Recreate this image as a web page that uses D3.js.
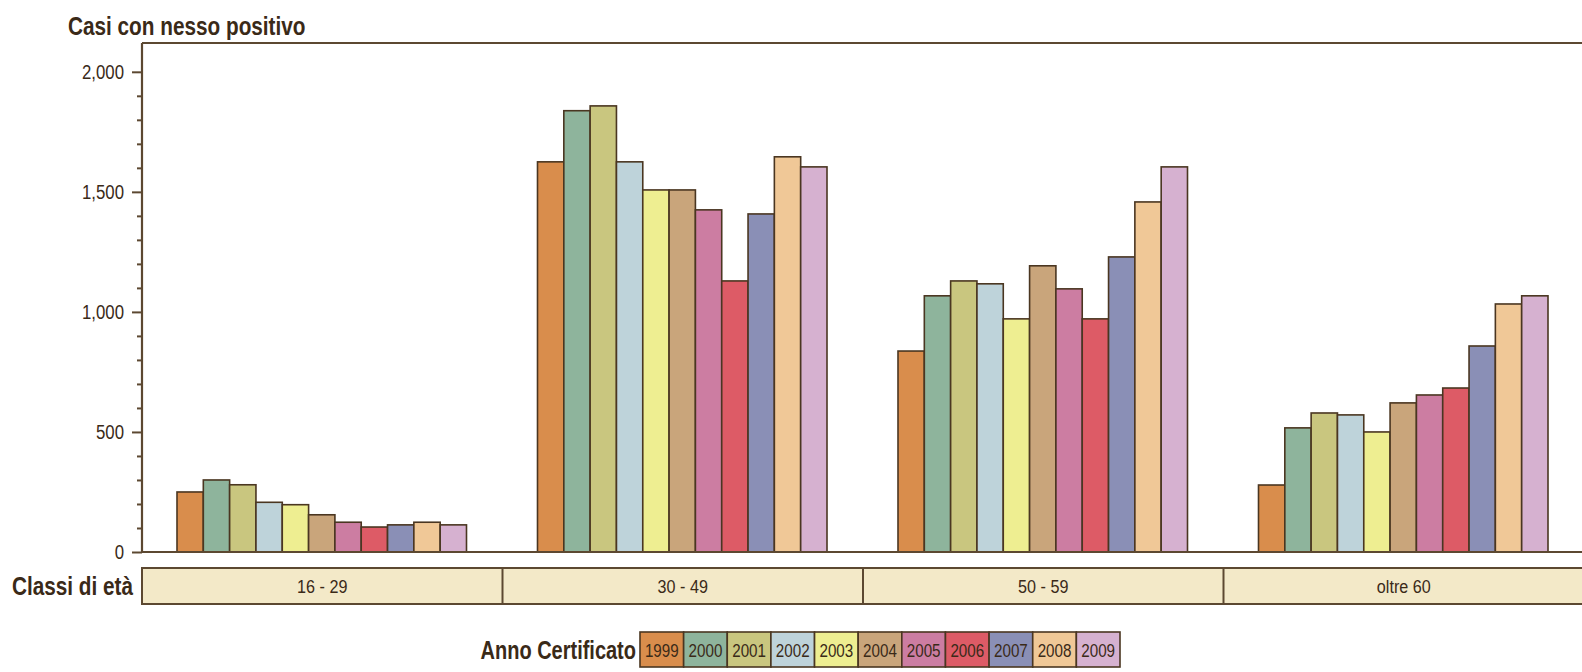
<!DOCTYPE html>
<html>
<head>
<meta charset="utf-8">
<script src="https://cdn.jsdelivr.net/npm/d3@7"></script>
<style>
  html, body { margin: 0; padding: 0; background: #fff; }
  svg { display: block; }
  text { font-family: "Liberation Sans", Arial, sans-serif; }
</style>
</head>
<body>
<svg id="chart" width="1582" height="672"></svg>
<script>
// ---- data ----
const ageClasses = ["16 - 29", "30 - 49", "50 - 59", "oltre 60"];
const years = ["1999", "2000", "2001", "2002", "2003", "2004", "2005", "2006", "2007", "2008", "2009"];
const values1629 = [250, 300, 280, 207, 197, 155, 124, 104, 113, 124, 113];
const values3049 = [1625, 1838, 1858, 1625, 1508, 1508, 1425, 1129, 1408, 1646, 1604];
const values5059 = [837, 1067, 1129, 1117, 971, 1192, 1096, 971, 1229, 1458, 1604];
const valuesOltre60 = [279, 517, 579, 571, 500, 621, 654, 683, 858, 1033, 1067];
const yearColors = ["#d98d4c", "#8eb49c", "#c9c67f", "#bed3da", "#eeee91", "#c9a57b", "#cc7da2", "#dd5b66", "#8a8fb6", "#f0c897", "#d6b1d0"];
const yTicks = [0, 500, 1000, 1500, 2000];

const seriesByClass = [values1629, values3049, values5059, valuesOltre60];
const ink = "#4a3621";
const axisCol = "#5c4831";
const textCol = "#3a2a18";
const condense = 0.82;

const svg = d3.select("#chart");

// condensed text helper
function ctext(parent, x, yy, str, size, bold, anchor, sx) {
  return parent.append("text")
    .attr("transform", `translate(${x},${yy}) scale(${sx || condense},1)`)
    .attr("text-anchor", anchor || "start")
    .attr("font-size", size)
    .attr("font-weight", bold ? "bold" : "normal")
    .attr("fill", textCol)
    .text(str);
}

const pLeft = 142, pRight = 1584, pTop = 43, pBottom = 552;
const y = d3.scaleLinear().domain([0, 2120]).range([pBottom, pTop]);
const x0 = d3.scaleBand().domain(ageClasses).range([pLeft, pRight]).paddingInner(0).paddingOuter(0);
const x1 = d3.scaleBand().domain(years).range([35, x0.bandwidth() - 36]).padding(0);

// bars
const groups = svg.append("g").selectAll("g")
  .data(ageClasses)
  .join("g")
  .attr("transform", d => `translate(${x0(d)},0)`);

groups.selectAll("rect")
  .data((d, i) => years.map((yr, j) => ({ yr, v: seriesByClass[i][j], c: yearColors[j] })))
  .join("rect")
  .attr("x", d => x1(d.yr))
  .attr("width", x1.bandwidth())
  .attr("y", d => y(d.v))
  .attr("height", d => y(0) - y(d.v))
  .attr("fill", d => d.c)
  .attr("stroke", ink)
  .attr("stroke-width", 1.6);

// frame: top line and baseline
svg.append("line").attr("x1", pLeft).attr("x2", 1582).attr("y1", pTop).attr("y2", pTop)
  .attr("stroke", axisCol).attr("stroke-width", 2.2);
svg.append("line").attr("x1", pLeft).attr("x2", 1582).attr("y1", pBottom).attr("y2", pBottom)
  .attr("stroke", axisCol).attr("stroke-width", 2.2);

// y axis with minor ticks
const minor = d3.range(0, 2001, 100).filter(v => v % 500 !== 0);
const yMinor = d3.axisLeft(y).tickValues(minor).tickSize(5).tickFormat("");
svg.append("g").attr("transform", `translate(${pLeft},0)`).call(yMinor)
  .call(g => g.select(".domain").remove())
  .call(g => g.selectAll("line").attr("stroke", axisCol).attr("stroke-width", 2));

const tickSx = 0.8;
const yAxis = d3.axisLeft(y).tickValues(yTicks).tickSize(10).tickPadding(8)
  .tickFormat(d3.format(","));
svg.append("g").attr("transform", `translate(${pLeft},0)`).call(yAxis)
  .call(g => g.select(".domain").attr("d", `M0,${pTop}V${pBottom}`).attr("stroke", axisCol).attr("stroke-width", 2.2))
  .call(g => g.selectAll("line").attr("stroke", axisCol).attr("stroke-width", 2))
  .call(g => g.selectAll("text")
    .attr("fill", textCol).attr("font-size", 21)
    .attr("font-family", '"Liberation Sans", Arial, sans-serif')
    .attr("x", -18 / tickSx)
    .attr("transform", `scale(${tickSx},1)`));

// y title
ctext(svg, 68, 35, "Casi con nesso positivo", 25, true, "start", 0.83);

// category strip
const stripTop = 568, stripH = 36;
svg.append("rect").attr("x", pLeft).attr("y", stripTop).attr("width", 1582 - pLeft + 10).attr("height", stripH)
  .attr("fill", "#f3e9c8").attr("stroke", axisCol).attr("stroke-width", 2);
svg.append("g").selectAll("line")
  .data(ageClasses.slice(1))
  .join("line")
  .attr("x1", d => x0(d)).attr("x2", d => x0(d))
  .attr("y1", stripTop).attr("y2", stripTop + stripH)
  .attr("stroke", axisCol).attr("stroke-width", 2);
const stripLabels = svg.append("g");
ageClasses.forEach(d => {
  ctext(stripLabels, x0(d) + x0.bandwidth() / 2, stripTop + stripH / 2 + 7, d, 19, false, "middle", 0.85);
});
ctext(svg, 133, stripTop + stripH / 2 + 9, "Classi di età", 25, true, "end", 0.83);

// legend
const legX = 640, legY = 632, legH = 35;
const lx = d3.scaleBand().domain(years).range([legX, 1120]);
ctext(svg, legX - 4, legY + legH / 2 + 9, "Anno Certificato", 25, true, "end", 0.8);
const leg = svg.append("g").selectAll("g").data(years).join("g");
leg.append("rect")
  .attr("x", d => lx(d)).attr("y", legY).attr("width", lx.bandwidth()).attr("height", legH)
  .attr("fill", (d, i) => yearColors[i]).attr("stroke", ink).attr("stroke-width", 1.6);
leg.each(function (d) {
  ctext(d3.select(this), lx(d) + lx.bandwidth() / 2, legY + legH / 2 + 7, d, 19, false, "middle", 0.8);
});
</script>
</body>
</html>
